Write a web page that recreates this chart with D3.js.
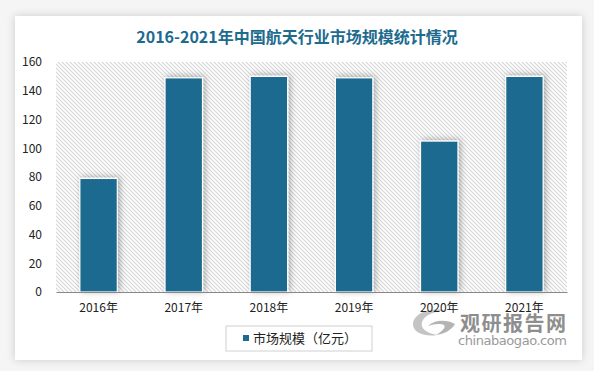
<!DOCTYPE html>
<html>
<head>
<meta charset="utf-8">
<script src="https://cdn.jsdelivr.net/npm/d3@7"></script>
<style>
  body { margin: 0; background: #f4f4f4; }
  svg { display: block; }
</style>
</head>
<body>
<svg id="chart"></svg>
<script>
// data
const years = ['2016年', '2017年', '2018年', '2019年', '2020年', '2021年'];
const marketSize = [79, 149, 150, 149, 105, 150];
const yTicks = [0, 20, 40, 60, 80, 100, 120, 140, 160];
const titleText = '2016-2021年中国航天行业市场规模统计情况';
const legendText = '市场规模（亿元）';

const W = 594, H = 371;
const margin = { top: 62, right: 27, bottom: 79, left: 56 };
const barColor = '#1d6b8f';
const font = '"Noto Sans CJK SC", "Noto Sans", sans-serif';

const svg = d3.select('#chart').attr('width', W).attr('height', H);
const defs = svg.append('defs');

// card shadow
const cardShadow = defs.append('filter').attr('id', 'cardShadow')
  .attr('x', '-10%').attr('y', '-10%').attr('width', '120%').attr('height', '120%');
cardShadow.append('feDropShadow').attr('dx', 0).attr('dy', 0)
  .attr('stdDeviation', 4).attr('flood-color', '#000').attr('flood-opacity', 0.18);

// bar shadow
const barShadow = defs.append('filter').attr('id', 'barShadow')
  .attr('x', '-30%').attr('y', '-30%').attr('width', '160%').attr('height', '160%');
barShadow.append('feDropShadow').attr('dx', 2).attr('dy', -1)
  .attr('stdDeviation', 3).attr('flood-color', '#000').attr('flood-opacity', 0.3);

// diagonal hatch for plot background
const hatch = defs.append('pattern').attr('id', 'hatch')
  .attr('patternUnits', 'userSpaceOnUse').attr('width', 4).attr('height', 4);
hatch.append('rect').attr('width', 4).attr('height', 4).attr('fill', '#fff');
hatch.append('path').attr('d', 'M-1,-1 L5,5 M3,-1 L5,1 M-1,3 L1,5')
  .attr('stroke', '#d6d6d6').attr('stroke-width', 1.1);

svg.append('rect').attr('width', W).attr('height', H).attr('fill', '#f5f5f5');
svg.append('rect')
  .attr('x', 15).attr('y', 16).attr('width', 567).attr('height', 344)
  .attr('fill', '#fff').attr('filter', 'url(#cardShadow)');

svg.append('text')
  .attr('x', 297).attr('y', 43)
  .attr('text-anchor', 'middle')
  .attr('fill', '#1d6b8f')
  .style('font', `bold 16px ${font}`)
  .text(titleText);

const x = d3.scaleBand()
  .domain(years)
  .range([margin.left, W - margin.right])
  .paddingInner(0.56)
  .paddingOuter(0.28);

const y = d3.scaleLinear()
  .domain([0, 160])
  .range([H - margin.bottom, margin.top]);

svg.append('rect')
  .attr('x', margin.left).attr('y', y(160))
  .attr('width', W - margin.right - margin.left)
  .attr('height', y(0) - y(160))
  .attr('fill', 'url(#hatch)');

svg.append('g')
  .selectAll('rect')
  .data(marketSize)
  .enter()
  .append('rect')
  .attr('x', (d, i) => x(years[i]))
  .attr('y', d => y(d))
  .attr('width', x.bandwidth())
  .attr('height', d => y(0) - y(d))
  .attr('fill', barColor)
  .attr('stroke', '#fff')
  .attr('stroke-width', 1.2)
  .attr('filter', 'url(#barShadow)');

// watermark (sits under the axis labels), two lines in one text
const mark = svg.append('g');
mark.append('path')
  .attr('d', 'M448,311 C430,306 413,314 413,324 C413,333 425,337 437,335 C426,333 420,328 422,322 C425,314 438,310 448,311 Z')
  .attr('fill', '#c4c4c4');
mark.append('path')
  .attr('d', 'M428,326 C434,320 446,319 455,324 C452,330 444,334 436,335 C443,331 446,327 444,325 C440,323 433,324 428,326 Z')
  .attr('fill', '#b4b4b4');
const markText = mark.append('text');
markText.append('tspan')
  .attr('x', 460).attr('y', 331)
  .attr('fill', '#8e8e8e')
  .attr('textLength', 106)
  .style('font', `bold 20px ${font}`)
  .text('观研报告网');
markText.append('tspan')
  .attr('x', 458).attr('y', 345)
  .attr('fill', '#9a9a9a')
  .attr('textLength', 109)
  .style('font', `13px "DejaVu Sans", sans-serif`)
  .text('chinabaogao.com');

// y axis (labels only)
const yAxis = svg.append('g')
  .attr('transform', `translate(${ margin.left - 14 },0)`)
  .call(d3.axisLeft(y).tickValues(yTicks).tickSize(0).tickPadding(0));
yAxis.select('.domain').remove();
yAxis.selectAll('text')
  .attr('fill', '#222')
  .style('font', `12px ${font}`);

// x axis
const xAxis = svg.append('g')
  .attr('transform', `translate(0,${ y(0) })`)
  .call(d3.axisBottom(x).tickSize(0).tickPadding(11));
xAxis.select('.domain').attr('stroke', '#888').attr('stroke-width', 1);
xAxis.selectAll('text')
  .attr('fill', '#222')
  .style('font', `12px ${font}`);

// legend
const legend = svg.append('g');
legend.append('rect')
  .attr('x', 226).attr('y', 326).attr('width', 146).attr('height', 25)
  .attr('fill', '#fff').attr('stroke', '#d0d0d0');
legend.append('rect')
  .attr('x', 243).attr('y', 335).attr('width', 6).attr('height', 6)
  .attr('fill', barColor);
legend.append('text')
  .attr('x', 253).attr('y', 343)
  .attr('fill', '#222')
  .style('font', `13px ${font}`)
  .text(legendText);
</script>
</body>
</html>
